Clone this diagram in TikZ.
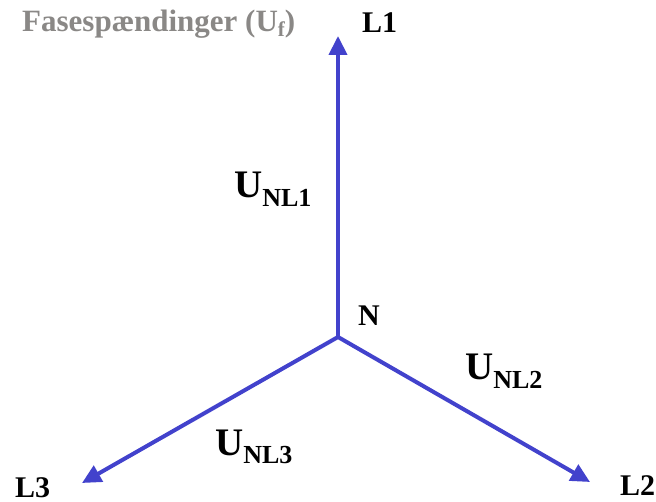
\documentclass[tikz,border=0pt]{standalone}
\usepackage{fontspec}
\setmainfont{Liberation Serif}
\usetikzlibrary{arrows.meta}
\definecolor{phasor}{RGB}{66,66,204}
\definecolor{titlegray}{RGB}{138,136,134}
\tikzset{
  phasorline/.style={draw=phasor, line width=4pt, -{Triangle[length=19pt,width=18pt]}},
  lbl/.style={font=\bfseries\fontsize{30}{30}\selectfont, anchor=base west, inner sep=0pt, text=black},
  ulbl/.style={font=\bfseries\fontsize{39}{39}\selectfont, anchor=base west, inner sep=0pt, text=black}
}
\newcommand{\usub}[1]{U\raisebox{-9pt}{\fontsize{26}{26}\selectfont #1}}
\begin{document}
\begin{tikzpicture}[x=1pt,y=-1pt]
\useasboundingbox (0,0) rectangle (656,502);
\coordinate (N) at (338,337);
\coordinate (T1) at (338,36);
\coordinate (T2) at (590,482);
\coordinate (T3) at (82,483);
\draw[phasorline] (N) -- (T1);
\draw[phasorline] (N) -- (T2);
\draw[phasorline] (N) -- (T3);
\node[lbl, text=titlegray, font=\bfseries\fontsize{31}{31}\selectfont] (title) at (22,32) {Fasespændinger (U\raisebox{-5pt}{\fontsize{21}{21}\selectfont f})};
\node[lbl] (l1) at (362,33) {L1};
\node[lbl] (l2) at (620,495) {L2};
\node[lbl] (l3) at (15,497) {L3};
\node[lbl] (n) at (358,326) {N};
\node[ulbl] (u1) at (234,198) {\usub{NL1}};
\node[ulbl] (u2) at (465,380) {\usub{NL2}};
\node[ulbl] (u3) at (215,455) {\usub{NL3}};
\end{tikzpicture}
\end{document}
